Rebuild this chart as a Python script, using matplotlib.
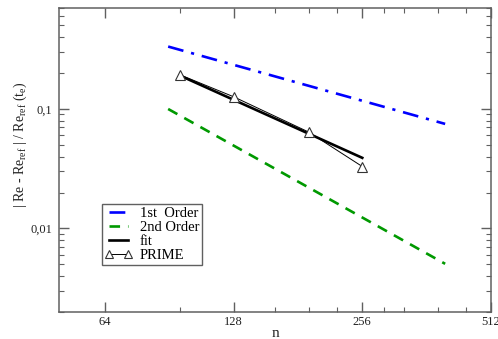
import matplotlib
matplotlib.use("Agg")
import matplotlib.pyplot as plt
from matplotlib.ticker import FixedLocator, NullFormatter, LogLocator

plt.rcParams['font.family'] = ['Liberation Serif', 'DejaVu Serif']
plt.rcParams['mathtext.fontset'] = 'custom'
plt.rcParams['mathtext.rm'] = 'Liberation Serif'
plt.rcParams['mathtext.it'] = 'Liberation Serif'

# Reference slopes
n_first = [90, 400]
err_first = [0.333, 0.075]
n_second = [90, 400]
err_second = [0.1, 0.00506]

# Least-squares fit of the PRIME results
n_fit = [96, 256]
err_fit = [0.19, 0.039]

# PRIME relative errors
n_prime = [96, 128, 192, 256]
err_prime = [0.193, 0.1266, 0.064, 0.033]

x_major = [64, 128, 256, 512]
x_major_labels = ['64', '128', '256', '512']
x_minor = [96, 160, 192, 224, 288, 320, 384, 448]
y_major = [0.01, 0.1]
y_major_labels = ['0,01', '0,1']

fig = plt.figure(figsize=(4.98, 3.39), dpi=100)
ax = fig.add_axes([59/498, 27/339, 432/498, 304/339])

frame = '#606060'

ax.plot(n_first, err_first, color='#0000ff', lw=1.9,
        dashes=(6, 3, 1.2, 3), label='1st  Order')
ax.plot(n_second, err_second, color='#009900', lw=1.9,
        dashes=(4, 3), label='2nd Order')
ax.plot(n_fit, err_fit, color='black', lw=1.9, label='fit')
ax.plot(n_prime, err_prime, color='black', lw=0.7, marker='^',
        markersize=7, markerfacecolor='white', markeredgecolor='#333333',
        markeredgewidth=0.8, label='PRIME')

ax.set_xscale('log', base=2)
ax.set_yscale('log')
ax.set_xlim(50, 512)
ax.set_ylim(0.002, 0.7)

ax.xaxis.set_major_locator(FixedLocator(x_major))
ax.set_xticklabels(x_major_labels)
ax.xaxis.set_minor_locator(FixedLocator(x_minor))
ax.xaxis.set_minor_formatter(NullFormatter())
ax.yaxis.set_major_locator(FixedLocator(y_major))
ax.set_yticklabels(y_major_labels)
ax.yaxis.set_minor_locator(LogLocator(base=10, subs=range(2, 10)))
ax.yaxis.set_minor_formatter(NullFormatter())

for s in ax.spines.values():
    s.set_color(frame)
    s.set_linewidth(1.1)

ax.tick_params(which='both', direction='in', top=True, right=True,
               colors=frame, labelcolor='#222222', labelsize=9)
ax.tick_params(which='major', length=7, width=1.0)
ax.tick_params(axis='x', which='major', pad=3)
ax.tick_params(axis='y', which='major', pad=5)
ax.tick_params(which='minor', length=3.3, width=0.8)

ax.set_xlabel('n', fontsize=11, color='#222222', labelpad=-1)
ax.set_ylabel(r'| Re - Re$_{\rm ref}$ | / Re$_{\rm ref}$ (t$_{\rm e}$)',
              fontsize=10, color='#222222')
ax.yaxis.set_label_coords(-0.07, 0.55)

leg = ax.legend(loc='upper left', bbox_to_anchor=(43/432, 108/304),
                borderaxespad=0, fancybox=False, framealpha=1,
                edgecolor=frame, fontsize=10.5, handlelength=1.9,
                handletextpad=0.5, borderpad=0.2, labelspacing=0.06,
                numpoints=2, markerscale=0.8)
leg.get_frame().set_linewidth(1.0)

fig.savefig('out.png', dpi=100)
